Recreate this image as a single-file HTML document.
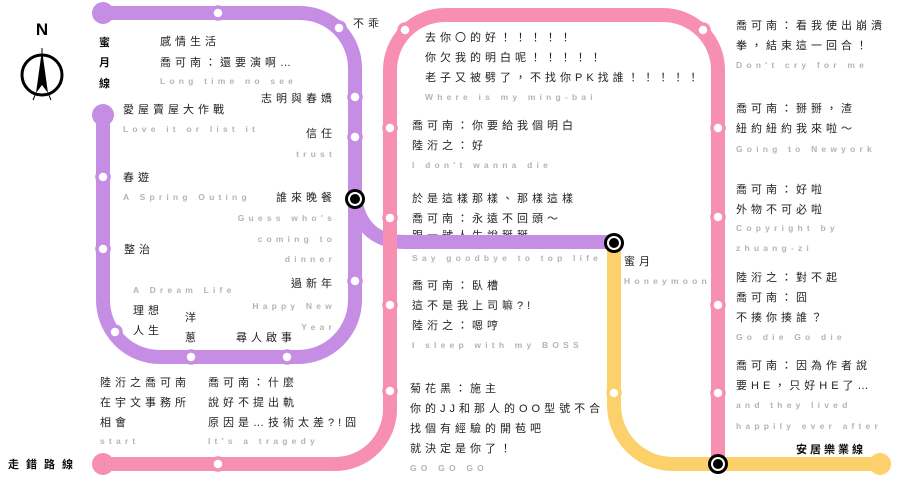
<!DOCTYPE html>
<html><head><meta charset="utf-8"><style>
html,body{margin:0;padding:0;background:#fff;}
svg{display:block;}
.c{font-family:"Liberation Sans","Noto Sans CJK TC",sans-serif;font-size:11px;fill:#222;letter-spacing:4px;}
.e{font-family:"Liberation Sans",sans-serif;font-size:8.5px;font-weight:bold;fill:#b4b4b4;letter-spacing:4.2px;}
.b{font-family:"Liberation Sans","Noto Sans CJK TC",sans-serif;font-size:11px;font-weight:bold;fill:#111;}
</style></head><body>
<svg width="900" height="478" viewBox="0 0 900 478" xmlns="http://www.w3.org/2000/svg">
<text x="42" y="35" text-anchor="middle" font-family="Liberation Sans" font-weight="bold" font-size="17" fill="#000">N</text>
<circle cx="42" cy="75" r="20" fill="none" stroke="#000" stroke-width="3"/>
<polygon points="42,50 36,93 42,85 48,93" fill="#000"/>
<line x1="42" y1="48" x2="42" y2="56" stroke="#000" stroke-width="1"/>
<line x1="36" y1="93" x2="33" y2="100" stroke="#000" stroke-width="1"/>
<line x1="48" y1="93" x2="51" y2="100" stroke="#000" stroke-width="1"/>

<text class="b" x="99" y="46">蜜</text>
<text class="b" x="99" y="66">月</text>
<text class="b" x="99" y="87">線</text>
<text class="c" x="160" y="45">感情生活</text>
<text class="c" x="160" y="66">喬可南：還要演啊…</text>
<text class="e" x="160" y="84">Long time no see</text>
<text class="c" x="336" y="102" text-anchor="end">志明與春嬌</text>
<text class="c" x="353" y="27">不乖</text>
<text class="c" x="123" y="113">愛屋賣屋大作戰</text>
<text class="e" x="123" y="132">Love it or list it</text>
<text class="c" x="336" y="137" text-anchor="end">信任</text>
<text class="e" x="336" y="157" text-anchor="end">trust</text>
<text class="c" x="123" y="181">春遊</text>
<text class="e" x="123" y="200">A Spring Outing</text>
<text class="c" x="336" y="201" text-anchor="end">誰來晚餐</text>
<text class="e" x="336" y="221" text-anchor="end">Guess who's</text>
<text class="e" x="336" y="242" text-anchor="end">coming to</text>
<text class="e" x="336" y="262" text-anchor="end">dinner</text>
<text class="c" x="124" y="253">整治</text>
<text class="c" x="336" y="287" text-anchor="end">過新年</text>
<text class="e" x="133" y="293">A Dream Life</text>
<text class="e" x="336" y="309" text-anchor="end">Happy New</text>
<text class="e" x="336" y="330" text-anchor="end">Year</text>
<text class="c" x="133" y="314">理想</text>
<text class="c" x="133" y="334">人生</text>
<text class="c" x="185" y="321">洋</text>
<text class="c" x="185" y="341">蔥</text>
<text class="c" x="236" y="341">尋人啟事</text>
<text class="c" x="100" y="386">陸洐之喬可南</text>
<text class="c" x="100" y="406">在宇文事務所</text>
<text class="c" x="100" y="426">相會</text>
<text class="e" x="100" y="444">start</text>
<text class="c" x="208" y="386">喬可南：什麼</text>
<text class="c" x="208" y="406">說好不提出軌</text>
<text class="c" x="208" y="426">原因是…技術太差?!囧</text>
<text class="e" x="208" y="444">It's a tragedy</text>
<text class="b" x="8" y="468" style="letter-spacing:7px">走錯路線</text>

<text class="c" x="425" y="41">去你〇的好！！！！！</text>
<text class="c" x="425" y="61">你欠我的明白呢！！！！！</text>
<text class="c" x="425" y="81">老子又被劈了，不找你PK找誰！！！！！</text>
<text class="e" x="425" y="100">Where is my ming-bai</text>
<text class="c" x="412" y="129">喬可南：你要給我個明白</text>
<text class="c" x="412" y="149">陸洐之：好</text>
<text class="e" x="412" y="168">I don't wanna die</text>
<text class="c" x="412" y="202">於是這樣那樣、那樣這樣</text>
<text class="c" x="412" y="222">喬可南：永遠不回頭～</text>
<text class="c" x="412" y="239">跟一號人生說掰掰</text>
<text class="e" x="412" y="261">Say goodbye to top life</text>
<text class="c" x="412" y="289">喬可南：臥槽</text>
<text class="c" x="412" y="309">這不是我上司嘛?!</text>
<text class="c" x="412" y="329">陸洐之：嗯哼</text>
<text class="e" x="412" y="348">I sleep with my BOSS</text>
<text class="c" x="410" y="392">菊花黑：施主</text>
<text class="c" x="410" y="412">你的JJ和那人的OO型號不合</text>
<text class="c" x="410" y="432">找個有經驗的開苞吧</text>
<text class="c" x="410" y="452">就決定是你了！</text>
<text class="e" x="410" y="471">GO GO GO</text>
<text class="c" x="624" y="265">蜜月</text>
<text class="e" x="624" y="284">Honeymoon</text>

<text class="c" x="736" y="29">喬可南：看我使出崩潰</text>
<text class="c" x="736" y="49">拳，結束這一回合！</text>
<text class="e" x="736" y="68">Don't cry for me</text>
<text class="c" x="736" y="112">喬可南：掰掰，渣</text>
<text class="c" x="736" y="132">紐約紐約我來啦～</text>
<text class="e" x="736" y="152">Going to Newyork</text>
<text class="c" x="736" y="193">喬可南：好啦</text>
<text class="c" x="736" y="213">外物不可必啦</text>
<text class="e" x="736" y="231">Copyright by</text>
<text class="e" x="736" y="251">zhuang-zi</text>
<text class="c" x="736" y="281">陸洐之：對不起</text>
<text class="c" x="736" y="301">喬可南：囧</text>
<text class="c" x="736" y="321">不揍你揍誰？</text>
<text class="e" x="736" y="340">Go die Go die</text>
<text class="c" x="736" y="369">喬可南：因為作者說</text>
<text class="c" x="736" y="389">要HE，只好HE了…</text>
<text class="e" x="736" y="408">and they lived</text>
<text class="e" x="736" y="429">happily ever after</text>
<text class="b" x="796" y="453" style="letter-spacing:3px">安居樂業線</text>

<g fill="none" stroke="#c58de3" stroke-width="14" stroke-linecap="round">
<path d="M103,13 H300 A55,55 0 0 1 355,68 V300 A57,57 0 0 1 298,357 H160 A57,57 0 0 1 103,300 V115"/>
<path d="M355,199 Q362,242 405,242 H614" stroke-linecap="butt"/>
</g>
<circle cx="103" cy="13" r="11" fill="#c58de3"/>
<circle cx="103" cy="115" r="11" fill="#c58de3"/>
<g fill="none" stroke="#fcd06a" stroke-width="14">
<path d="M614,243 V405 A59,59 0 0 0 673,464 H880"/>
</g>
<circle cx="880" cy="464" r="11" fill="#fcd06a"/>
<g fill="none" stroke="#f78fb3" stroke-width="14">
<path d="M103,464 H335 A55,55 0 0 0 390,409 V70 A55,55 0 0 1 445,15 H663 A55,55 0 0 1 718,70 V464"/>
</g>
<circle cx="103" cy="464" r="11" fill="#f78fb3"/>

<g fill="#fff" stroke-width="3.5">
<g stroke="#c58de3">
<circle cx="218" cy="13" r="6"/><circle cx="339" cy="28" r="6"/><circle cx="355" cy="97" r="6"/>
<circle cx="355" cy="137" r="6"/><circle cx="355" cy="281" r="6"/><circle cx="287" cy="357" r="6"/>
<circle cx="191" cy="357" r="6"/><circle cx="115" cy="332" r="6"/><circle cx="103" cy="249" r="6"/>
<circle cx="103" cy="177" r="6"/>
</g>
<g stroke="#f78fb3">
<circle cx="218" cy="464" r="6"/><circle cx="390" cy="391" r="6"/><circle cx="390" cy="305" r="6"/>
<circle cx="390" cy="218" r="6"/><circle cx="390" cy="128" r="6"/><circle cx="405" cy="30" r="6"/>
<circle cx="703" cy="30" r="6"/><circle cx="718" cy="128" r="6"/><circle cx="718" cy="217" r="6"/>
<circle cx="718" cy="305" r="6"/><circle cx="718" cy="393" r="6"/>
</g>
<g stroke="#fcd06a"><circle cx="614" cy="393" r="6"/></g>
</g>
<g>
<circle cx="355" cy="199" r="10" fill="#000"/><circle cx="355" cy="199" r="7" fill="#fff"/><circle cx="355" cy="199" r="5" fill="#000"/>
<circle cx="614" cy="243" r="10" fill="#000"/><circle cx="614" cy="243" r="7" fill="#fff"/><circle cx="614" cy="243" r="5" fill="#000"/>
<circle cx="718" cy="464" r="10" fill="#000"/><circle cx="718" cy="464" r="7" fill="#fff"/><circle cx="718" cy="464" r="5" fill="#000"/>
</g>
</svg>
</body></html>
